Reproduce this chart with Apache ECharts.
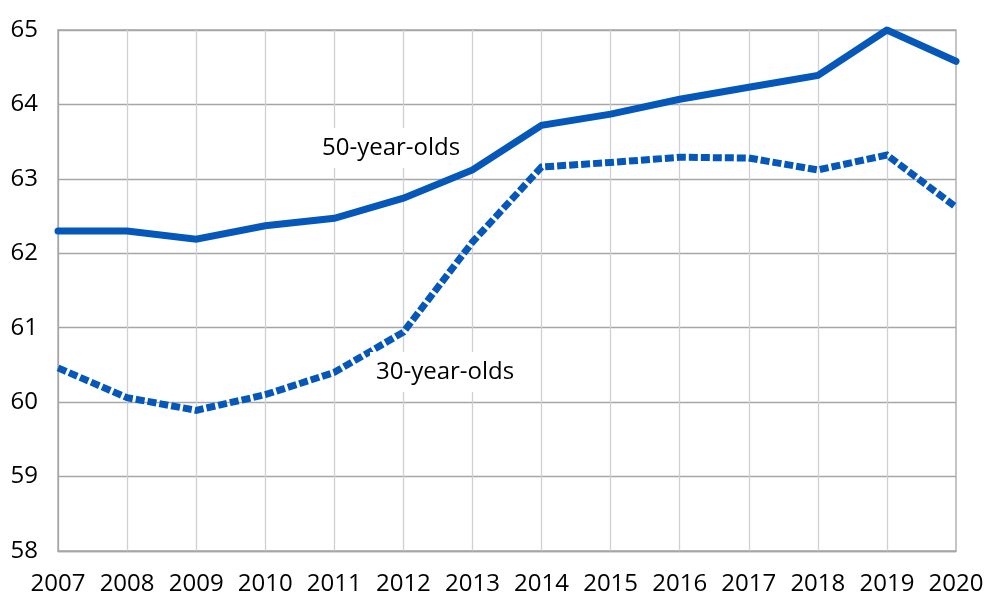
<!DOCTYPE html>
<html><head><meta charset="utf-8">
<script src="https://cdn.jsdelivr.net/npm/echarts@6/dist/echarts.min.js"></script>
<style>html,body{margin:0;padding:0;background:#fff}#c{width:990px;height:596px}</style>
</head><body><div id="c"></div>
<script>
const years = ['2007','2008','2009','2010','2011','2012','2013','2014','2015','2016','2017','2018','2019','2020'];
const age50 = [62.30,62.30,62.19,62.37,62.47,62.74,63.12,63.72,63.87,64.07,64.23,64.39,65.00,64.58];
const age30 = [60.46,60.06,59.89,60.10,60.40,60.94,62.15,63.16,63.22,63.29,63.28,63.12,63.32,62.62];
const yTicks = [58,59,60,61,62,63,64,65];
const FONT = '"Open Sans", sans-serif';
const BLUE = '#0558BA';
const chart = echarts.init(document.getElementById('c'), null, {renderer:'canvas'});
chart.setOption({
  animation:false,
  backgroundColor:'#fff',
  grid:{left:58,right:34,top:30,bottom:45,show:true,borderColor:'#a6a6a6',borderWidth:1.3,backgroundColor:'transparent'},
  xAxis:{type:'category',data:years,boundaryGap:false,
    axisLine:{show:true,lineStyle:{color:'#a6a6a6',width:1.3}},
    axisTick:{show:false},
    axisLabel:{color:'#000',fontFamily:FONT,fontSize:24,margin:21,interval:0},
    splitLine:{show:true,interval:function(i){return i!==0 && i!==years.length-1;},lineStyle:{color:'#d0d0d0',width:1.3}}},
  yAxis:{type:'value',min:yTicks[0],max:yTicks[yTicks.length-1],interval:1,
    axisLine:{show:true,lineStyle:{color:'#a6a6a6',width:1.3}},
    axisTick:{show:false},
    axisLabel:{color:'#000',fontFamily:FONT,fontSize:24,margin:20},
    splitLine:{show:true,lineStyle:{color:'#a6a6a6',width:1.3}}},
  series:[
    {name:'50-year-olds',type:'line',data:age50,symbol:'none',z:3,
     lineStyle:{color:BLUE,width:7,cap:'round',join:'miter'}},
    {name:'30-year-olds',type:'line',data:age30,symbol:'none',z:3,
     lineStyle:{color:BLUE,width:7,type:[9,3],cap:'butt',join:'miter'}}
  ],
  graphic:[
    {type:'text',left:316,top:128,z:10,style:{text:'50-year-olds',font:'24px "Open Sans", sans-serif',fill:'#000',backgroundColor:'#fff',padding:[8,6,8,6]}},
    {type:'text',left:370,top:352,z:10,style:{text:'30-year-olds',font:'24px "Open Sans", sans-serif',fill:'#000',backgroundColor:'#fff',padding:[8,6,8,6]}}
  ]
});
</script></body></html>
